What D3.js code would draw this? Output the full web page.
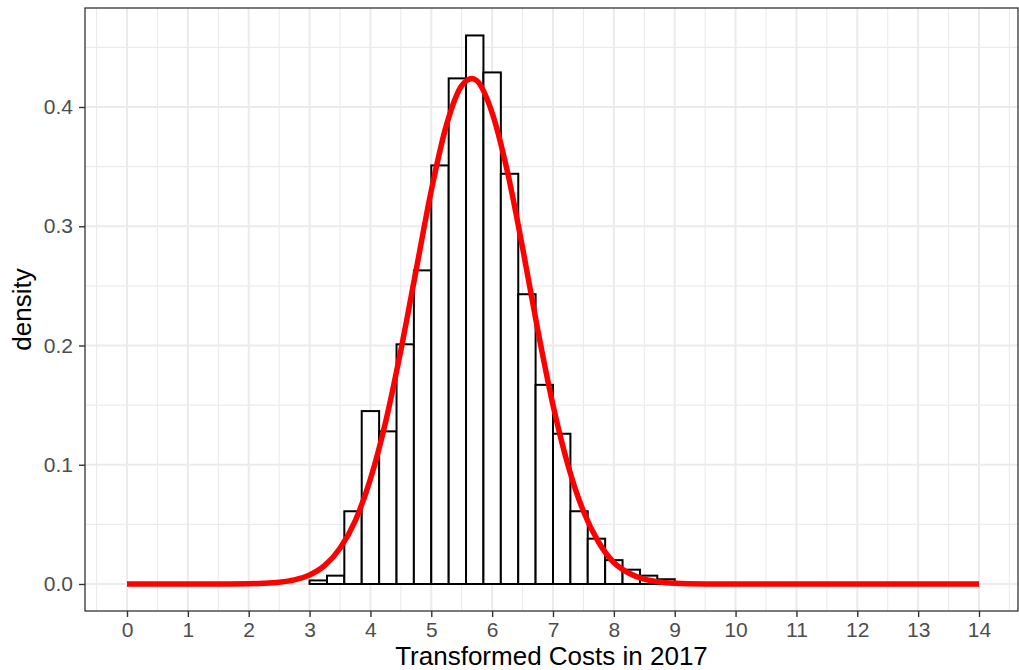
<!DOCTYPE html>
<html>
<head>
<meta charset="utf-8">
<script src="https://cdn.jsdelivr.net/npm/d3@7"></script>
<style>
  body { margin: 0; background: #fff; }
  svg { font-family: "Liberation Sans", Arial, sans-serif; }
  .tick text { fill: #4d4d4d; font-size: 21px; }
  .tick line { stroke: #333; stroke-width: 1.4; }
  .axis-label { fill: #000; font-size: 26px; }
</style>
</head>
<body>
<svg width="1019" height="670"></svg>
<script>
// histogram bins (left/right edges) and density heights
const binEdges = [3.000, 3.286, 3.571, 3.857, 4.143, 4.429, 4.714, 5.000, 5.286, 5.571, 5.857,
                  6.143, 6.429, 6.714, 7.000, 7.286, 7.571, 7.857, 8.143, 8.429, 8.714, 9.000, 9.286];
const binDensity = [0.003, 0.007, 0.061, 0.145, 0.128, 0.201, 0.263, 0.351, 0.424, 0.460, 0.429,
                    0.344, 0.243, 0.167, 0.126, 0.061, 0.038, 0.020, 0.012, 0.007, 0.004, 0.001];

// red fitted curve
const curveX = [0, 1, 1.5, 2, 2.25, 2.5, 2.75, 3, 3.25, 3.5, 3.75, 4, 4.25, 4.5, 4.75, 5, 5.25, 5.5,
                5.67, 5.75, 6, 6.25, 6.5, 6.75, 7, 7.25, 7.5, 7.75, 8, 8.25, 8.5, 8.75, 9, 9.5, 10,
                11, 12, 13, 14];
const curveY = [0, 0, 0.00001, 0.0002, 0.0006, 0.0015, 0.0035, 0.0076, 0.0156, 0.030, 0.053, 0.088,
                0.136, 0.196, 0.263, 0.330, 0.385, 0.418, 0.424, 0.422, 0.395, 0.346, 0.282, 0.213,
                0.150, 0.099, 0.061, 0.035, 0.018, 0.009, 0.004, 0.0017, 0.0007, 0.0001, 0,
                0, 0, 0, 0];

const xTicks = d3.range(0, 15);
const yTicks = [0, 0.1, 0.2, 0.3, 0.4];
const xMinor = d3.range(-0.5, 15, 1);
const yMinor = [0.05, 0.15, 0.25, 0.35, 0.45];

const xAxisLabel = 'Transformed Costs in 2017';
const yAxisLabel = 'density';

const svg = d3.select('svg');

const panel = {left: 85, right: 1018, top: 8, bottom: 611};

const xScale = d3.scaleLinear()
    .domain([0, 14])
    .range([127, 979]);

const yScale = d3.scaleLinear()
    .domain([0, 0.4])
    .range([584, 107]);

const bins = binDensity.map((d, i) => ({x0: binEdges[i], x1: binEdges[i + 1], density: d}));
const line = curveX.map((x, i) => ({x: x, y: curveY[i]}));

const g = svg.append('g');

// grid
g.append('rect')
    .attr('x', panel.left).attr('y', panel.top)
    .attr('width', panel.right - panel.left)
    .attr('height', panel.bottom - panel.top)
    .attr('fill', '#fff');

g.selectAll('.minor-x').data(xMinor).enter().append('line')
    .attr('x1', d => xScale(d)).attr('x2', d => xScale(d))
    .attr('y1', panel.top).attr('y2', panel.bottom)
    .attr('stroke', '#ebebeb').attr('stroke-width', 1.1);

g.selectAll('.minor-y').data(yMinor).enter().append('line')
    .attr('y1', d => yScale(d)).attr('y2', d => yScale(d))
    .attr('x1', panel.left).attr('x2', panel.right)
    .attr('stroke', '#ebebeb').attr('stroke-width', 1.1);

g.selectAll('.major-x').data(xTicks).enter().append('line')
    .attr('x1', d => xScale(d)).attr('x2', d => xScale(d))
    .attr('y1', panel.top).attr('y2', panel.bottom)
    .attr('stroke', '#ebebeb').attr('stroke-width', 2);

g.selectAll('.major-y').data(yTicks).enter().append('line')
    .attr('y1', d => yScale(d)).attr('y2', d => yScale(d))
    .attr('x1', panel.left).attr('x2', panel.right)
    .attr('stroke', '#ebebeb').attr('stroke-width', 2);

// histogram
g.selectAll('.bar').data(bins).enter().append('rect')
    .attr('class', 'bar')
    .attr('x', d => xScale(d.x0))
    .attr('width', d => xScale(d.x1) - xScale(d.x0))
    .attr('y', d => yScale(d.density))
    .attr('height', d => yScale(0) - yScale(d.density))
    .attr('fill', '#fff')
    .attr('stroke', '#000')
    .attr('stroke-width', 2);

// curve
const lineGenerator = d3.line()
    .x(d => xScale(d.x))
    .y(d => yScale(d.y))
    .curve(d3.curveMonotoneX);

g.append('path')
    .attr('d', lineGenerator(line))
    .attr('fill', 'none')
    .attr('stroke', '#ff0000')
    .attr('stroke-width', 5.5);

// panel border
g.append('rect')
    .attr('x', panel.left).attr('y', panel.top)
    .attr('width', panel.right - panel.left)
    .attr('height', panel.bottom - panel.top)
    .attr('fill', 'none')
    .attr('stroke', '#333')
    .attr('stroke-width', 1.3);

// axes
const xAxis = d3.axisBottom(xScale)
    .tickValues(xTicks)
    .tickFormat(d3.format('d'))
    .tickSize(6)
    .tickPadding(5);

const xAxisG = g.append('g').call(xAxis)
    .attr('transform', `translate(0, ${panel.bottom})`);
xAxisG.select('.domain').remove();

const yAxis = d3.axisLeft(yScale)
    .tickValues(yTicks)
    .tickFormat(d3.format('.1f'))
    .tickSize(6)
    .tickPadding(6);

const yAxisG = g.append('g').call(yAxis)
    .attr('transform', `translate(${panel.left}, 0)`);
yAxisG.select('.domain').remove();

svg.append('text')
    .attr('class', 'axis-label')
    .attr('x', (panel.left + panel.right) / 2)
    .attr('y', 665)
    .attr('text-anchor', 'middle')
    .text(xAxisLabel);

svg.append('text')
    .attr('class', 'axis-label')
    .attr('transform', `translate(31, ${(panel.top + panel.bottom) / 2}) rotate(-90)`)
    .attr('text-anchor', 'middle')
    .text(yAxisLabel);
</script>
</body>
</html>
